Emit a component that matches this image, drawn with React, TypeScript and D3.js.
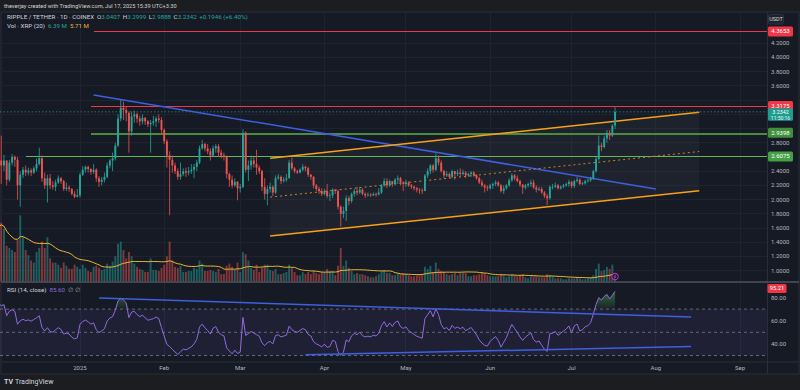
import React from "react";
import * as d3 from "d3";

// ---------------- data ----------------
const startDate = "2024-12-02";
const firstOpen = 2.38;
const lastBarOpen = 3.0407;

const closes = [
  // Dec 2024 (from Dec 2)
  2.55, 2.48, 2.55, 2.28, 2.52, 2.60, 2.56, 2.20, 2.35, 2.42, 2.38, 2.41, 2.38, 2.44, 2.50, 2.58, 2.30, 2.20, 2.30, 2.20, 2.18, 2.24, 2.30, 2.26, 2.15, 2.17, 2.15, 2.08, 2.04, 2.06,
  // Jan 2025
  2.35, 2.42, 2.46, 2.43, 2.39, 2.42, 2.30, 2.25, 2.28, 2.32, 2.48, 2.55, 2.58, 2.76, 3.14, 3.29, 3.26, 3.22, 2.96, 3.17, 3.20, 3.14, 3.10, 3.15, 3.10, 3.06, 3.08, 3.10, 3.14, 3.12, 2.98,
  // Feb
  2.82, 2.62, 2.56, 2.48, 2.40, 2.32, 2.36, 2.40, 2.38, 2.40, 2.42, 2.46, 2.52, 2.72, 2.78, 2.72, 2.68, 2.62, 2.72, 2.75, 2.66, 2.62, 2.60, 2.36, 2.28, 2.20, 2.25, 2.16,
  // Mar
  2.18, 2.94, 2.42, 2.48, 2.55, 2.50, 2.45, 2.40, 2.18, 2.08, 2.15, 2.18, 2.10, 2.30, 2.32, 2.26, 2.28, 2.30, 2.52, 2.44, 2.40, 2.38, 2.42, 2.46, 2.44, 2.35, 2.32, 2.20, 2.15, 2.12, 2.08,
  // Apr
  2.12, 2.05, 2.06, 2.14, 2.12, 1.90, 1.80, 1.84, 2.02, 1.98, 2.08, 2.12, 2.10, 2.14, 2.08, 2.06, 2.07, 2.06, 2.08, 2.07, 2.10, 2.20, 2.26, 2.20, 2.26, 2.22, 2.28, 2.30, 2.24, 2.22,
  // May
  2.24, 2.20, 2.18, 2.16, 2.14, 2.13, 2.12, 2.34, 2.40, 2.48, 2.42, 2.58, 2.52, 2.40, 2.34, 2.36, 2.32, 2.40, 2.36, 2.38, 2.36, 2.38, 2.34, 2.36, 2.38, 2.34, 2.30, 2.24, 2.20, 2.17, 2.16,
  // Jun
  2.20, 2.22, 2.24, 2.20, 2.12, 2.16, 2.20, 2.27, 2.34, 2.30, 2.26, 2.21, 2.17, 2.20, 2.22, 2.24, 2.17, 2.14, 2.15, 2.10, 2.05, 2.02, 2.18, 2.18, 2.20, 2.16, 2.18, 2.20, 2.22, 2.25,
  // Jul
  2.19, 2.26, 2.28, 2.22, 2.23, 2.26, 2.27, 2.30, 2.40, 2.57, 2.76, 2.74, 2.86, 2.94, 2.90, 3.0396, 3.2342,
];

const highs = [
  2.73, 2.90, 2.63, 2.55, 2.56, 2.64, 2.62, 2.60, 2.40, 2.46, 2.48, 2.45, 2.44, 2.47, 2.58, 2.73, 2.62, 2.38, 2.35, 2.36, 2.26, 2.28, 2.34, 2.32, 2.28, 2.24, 2.20, 2.16, 2.12, 2.15,
  2.38, 2.47, 2.48, 2.48, 2.44, 2.50, 2.44, 2.33, 2.32, 2.38, 2.52, 2.57, 2.66, 2.80, 3.20, 3.40, 3.38, 3.30, 3.24, 3.24, 3.25, 3.22, 3.18, 3.20, 3.16, 3.12, 3.12, 3.18, 3.17, 3.20, 3.16,
  3.00, 2.85, 2.68, 2.62, 2.52, 2.44, 2.52, 2.44, 2.45, 2.46, 2.50, 2.50, 2.56, 2.76, 2.84, 2.80, 2.78, 2.72, 2.76, 2.78, 2.78, 2.70, 2.66, 2.62, 2.38, 2.34, 2.30, 2.26,
  2.22, 2.99, 2.96, 2.55, 2.62, 2.60, 2.70, 2.48, 2.42, 2.30, 2.20, 2.24, 2.20, 2.34, 2.36, 2.34, 2.32, 2.36, 2.56, 2.59, 2.46, 2.42, 2.44, 2.50, 2.48, 2.46, 2.36, 2.33, 2.22, 2.18, 2.16,
  2.15, 2.22, 2.10, 2.16, 2.15, 2.14, 1.92, 1.90, 2.06, 2.05, 2.10, 2.15, 2.18, 2.18, 2.16, 2.10, 2.10, 2.09, 2.10, 2.10, 2.16, 2.22, 2.30, 2.30, 2.28, 2.26, 2.30, 2.34, 2.32, 2.26,
  2.28, 2.26, 2.22, 2.20, 2.18, 2.16, 2.16, 2.36, 2.44, 2.50, 2.50, 2.65, 2.62, 2.55, 2.42, 2.40, 2.38, 2.42, 2.40, 2.42, 2.44, 2.42, 2.40, 2.38, 2.40, 2.40, 2.36, 2.32, 2.28, 2.22, 2.20,
  2.22, 2.24, 2.27, 2.26, 2.22, 2.20, 2.22, 2.30, 2.37, 2.36, 2.34, 2.28, 2.22, 2.22, 2.24, 2.28, 2.28, 2.20, 2.18, 2.18, 2.12, 2.08, 2.20, 2.22, 2.24, 2.22, 2.20, 2.22, 2.24, 2.28,
  2.26, 2.28, 2.32, 2.30, 2.25, 2.28, 2.30, 2.32, 2.42, 2.60, 2.90, 2.80, 2.90, 2.98, 2.98, 3.06, 3.2999,
];

const lows = [
  2.28, 2.22, 2.40, 2.20, 2.25, 2.48, 2.46, 2.00, 1.90, 2.30, 2.33, 2.34, 2.33, 2.36, 2.40, 2.48, 2.25, 2.15, 1.96, 2.15, 2.14, 2.12, 2.22, 2.22, 2.12, 2.12, 2.11, 2.06, 2.02, 2.03,
  2.03, 2.33, 2.38, 2.38, 2.35, 2.36, 2.25, 2.18, 2.20, 2.24, 2.30, 2.44, 2.40, 2.55, 2.74, 3.10, 3.12, 3.10, 2.66, 2.90, 3.08, 3.08, 3.04, 3.06, 3.05, 3.02, 2.66, 3.04, 3.02, 3.08, 2.94,
  2.78, 2.45, 1.78, 2.38, 2.36, 2.28, 2.28, 2.33, 2.32, 2.34, 2.36, 2.30, 2.40, 2.50, 2.70, 2.68, 2.64, 2.55, 2.60, 2.66, 2.60, 2.58, 2.55, 2.30, 2.18, 2.16, 2.18, 1.99,
  2.10, 2.16, 2.38, 2.26, 2.42, 2.45, 2.35, 2.36, 2.12, 2.00, 1.92, 2.10, 2.05, 2.08, 2.28, 2.22, 2.24, 2.25, 2.30, 2.42, 2.37, 2.36, 2.37, 2.40, 2.40, 2.32, 2.28, 2.16, 2.12, 2.08, 2.05,
  2.06, 2.02, 1.98, 2.02, 2.08, 1.86, 1.62, 1.74, 1.70, 1.92, 1.95, 2.04, 2.06, 2.08, 2.06, 2.02, 2.04, 2.04, 2.05, 2.04, 2.06, 2.08, 2.18, 2.16, 2.18, 2.18, 2.20, 2.22, 2.20, 2.12,
  2.18, 2.18, 2.15, 2.13, 2.10, 2.08, 2.08, 2.12, 2.30, 2.36, 2.38, 2.40, 2.48, 2.38, 2.30, 2.32, 2.30, 2.30, 2.28, 2.33, 2.32, 2.34, 2.30, 2.32, 2.32, 2.32, 2.28, 2.22, 2.18, 2.10, 2.12,
  2.14, 2.15, 2.19, 2.18, 2.10, 2.08, 2.14, 2.18, 2.25, 2.27, 2.24, 2.18, 2.08, 2.14, 2.17, 2.18, 2.15, 2.10, 2.12, 2.08, 2.02, 1.92, 2.00, 2.14, 2.16, 2.14, 2.14, 2.16, 2.18, 2.18,
  2.16, 2.16, 2.24, 2.20, 2.20, 2.21, 2.24, 2.25, 2.28, 2.38, 2.55, 2.68, 2.72, 2.80, 2.84, 2.88, 2.9888,
];

// volume in millions of XRP
const volumes = [
  52, 56, 50, 34, 32, 30, 28, 40, 63, 42, 30, 25, 20, 18, 28, 32, 38, 32, 42, 22, 18, 18, 16, 13, 18, 15, 12, 12, 16, 14,
  12, 16, 13, 10, 9, 14, 15, 13, 11, 12, 17, 15, 19, 24, 36, 38, 30, 22, 28, 24, 17, 14, 12, 11, 9, 9, 22, 11, 11, 10, 13,
  16, 24, 38, 20, 14, 13, 15, 9, 9, 10, 10, 13, 12, 20, 17, 10, 10, 11, 10, 9, 12, 7, 7, 15, 17, 14, 11, 18,
  9, 28, 26, 20, 13, 11, 16, 9, 13, 16, 16, 11, 10, 12, 7, 7, 8, 9, 16, 13, 9, 6, 6, 9, 7, 9, 7, 10, 8, 7, 9,
  9, 12, 10, 10, 6, 15, 32, 15, 20, 13, 10, 7, 8, 7, 7, 6, 5, 4, 4, 5, 7, 10, 11, 8, 8, 6, 6, 8, 7, 8,
  7, 6, 5, 5, 6, 7, 7, 14, 12, 15, 9, 18, 12, 10, 9, 7, 6, 7, 8, 6, 8, 8, 8, 5, 5, 6, 6, 7, 8, 8, 6,
  5, 5, 5, 5, 7, 6, 4, 5, 7, 6, 5, 6, 7, 4, 3, 5, 5, 5, 4, 4, 4, 7, 6, 5, 3, 3, 3, 2, 2, 3,
  3, 3, 4, 3, 2, 2, 3, 4, 6, 12, 17, 10, 11, 14, 12, 16, 6.39,
];

// Wilder averages of RSI(14) on the day before the first bar (first RSI reads ~74)
const rsiSeedGain = 0.11;
const rsiSeedLoss = 0.04;

const priceTicks = [1.0, 1.2, 1.4, 1.6, 1.8, 2.0, 2.2, 2.4, 2.6, 2.8, 3.0, 3.2, 3.4, 3.6, 3.8, 4.0, 4.2];
const rsiTicks = [40, 60, 80];
const monthTicks = ["2025-01-01", "2025-02-01", "2025-03-01", "2025-04-01", "2025-05-01", "2025-06-01", "2025-07-01", "2025-08-01", "2025-09-01"];
const monthLabels = ["2025", "Feb", "Mar", "Apr", "May", "Jun", "Jul", "Aug", "Sep"];

// drawn levels
const levelPrices = [4.3653, 3.3175, 2.9398, 2.6075];
const levelStarts = ["2025-01-06", "2025-01-05", "2025-01-05", "2024-12-12"];
const levelColors = ["#f23645", "#f23645", "#4c8a3f", "#5fb85a"];
const levelLabelColors = ["#f23645", "#f23645", "#3f8f3c", "#43a047"];
const levelWidths = [1, 1, 2, 1];

// trend lines (date, value)
const blueTrend = [["2025-01-06", 3.471], ["2025-08-01", 2.149]];
const channelUpper = [["2025-03-12", 2.581], ["2025-08-17", 3.228]];
const channelLower = [["2025-03-12", 1.488], ["2025-08-17", 2.125]];
const rsiUpperTrend = [["2025-01-08", 79.5], ["2025-08-14", 63.1]];
const rsiLowerTrend = [["2025-03-25", 30.6], ["2025-08-14", 37.8]];

// ---------------- helpers ----------------
const UP = "#26a69a";
const DOWN = "#ef5350";
const FONT = "Roboto, 'Open Sans', 'DejaVu Sans', sans-serif";
const D = (s: string) => new Date(s + "T00:00:00Z");

export default function App() {
  const W = 800, H = 390;
  const plotRight = 767;
  const priceTop = 12, priceBottom = 282;
  const rsiTop = 283, rsiBottom = 362;

  const x = d3.scaleUtc().domain([D("2025-01-01"), D("2025-09-01")]).range([80, 740]);
  const y = d3.scaleLinear().domain([1, 4]).range([270.7, 57.4]);
  const yVol = d3.scaleLinear().domain([0, 70]).range([281.5, 208]);
  const yR = d3.scaleLinear().domain([30, 70]).range([355.5, 309.1]);

  const start = D(startDate);
  const dates = d3.utcDay.range(start, d3.utcDay.offset(start, closes.length));
  const n = closes.length;
  const bars = closes.map((c, i) => {
    const o = i === 0 ? firstOpen : i === n - 1 ? lastBarOpen : closes[i - 1];
    return {
      date: dates[i],
      open: o,
      close: c,
      high: Math.max(highs[i], o, c),
      low: Math.min(lows[i], o, c),
      vol: volumes[i],
    };
  });

  // volume SMA(20)
  const ma = volumes.map((_, i) => d3.mean(volumes.slice(Math.max(0, i - 19), i + 1)) as number);

  // RSI(14), Wilder smoothing
  const rsi: number[] = [];
  let ag = rsiSeedGain, al = rsiSeedLoss;
  bars.forEach((b, i) => {
    const prev = i === 0 ? firstOpen : closes[i - 1];
    const ch = b.close - prev;
    ag = (ag * 13 + Math.max(ch, 0)) / 14;
    al = (al * 13 + Math.max(-ch, 0)) / 14;
    rsi.push(100 - 100 / (1 + ag / al));
  });

  const bw = 1.9;
  const xs = (d: Date) => x(d);

  const lineP = (pts: any[], scale: any) => {
    const [a, b] = pts;
    return { x1: x(D(a[0])), y1: scale(a[1]), x2: x(D(b[0])), y2: scale(b[1]) };
  };

  const maLine = d3.line<number>().x((_, i) => xs(dates[i])).y((v) => yVol(v))(ma) as string;
  const rsiLine = d3.line<number>().x((_, i) => xs(dates[i])).y((v) => yR(v))(rsi) as string;
  const rsiFill = d3
    .area<number>()
    .x((_, i) => xs(dates[i]))
    .y0(yR(70))
    .y1((v) => yR(Math.max(v, 70)))(rsi) as string;

  const cu = lineP(channelUpper, y);
  const cl = lineP(channelLower, y);
  const channelPoly = `M${cu.x1},${cu.y1}L${cu.x2},${cu.y2}L${cl.x2},${cl.y2}L${cl.x1},${cl.y1}Z`;
  const mid = { x1: cu.x1, y1: (cu.y1 + cl.y1) / 2, x2: cu.x2, y2: (cu.y2 + cl.y2) / 2 };

  const fmt4 = d3.format(".4f");
  const fmt2 = d3.format(".2f");
  const last = bars[n - 1];

  // price-axis labels hidden behind the coloured level / last-price labels
  const labelCenters = [...levelPrices.map((p) => y(p)), y(last.close) + 2.5];
  const visibleTicks = priceTicks.filter((p) => labelCenters.every((c) => Math.abs(y(p) - c) > 6.5));

  const axisText = "#b2b5be";
  const labelBox = (yc: number, text: string, bg: string, key: string) => (
    <g key={key}>
      <rect x={768} y={yc - 5} width={25} height={10} rx={1.5} fill={bg} />
      <text x={780.5} y={yc + 2} fontSize={6} fill="#fff" textAnchor="middle">{text}</text>
    </g>
  );

  return (
    <svg width={W} height={H} style={{ position: "fixed", left: 0, top: 0, display: "block" }} fontFamily={FONT}>
      <defs>
        <clipPath id="pricePane"><rect x={0} y={priceTop} width={plotRight} height={priceBottom - priceTop} /></clipPath>
        <clipPath id="rsiPane"><rect x={0} y={rsiTop} width={plotRight} height={rsiBottom - rsiTop} /></clipPath>
        <linearGradient id="obFill" x1="0" y1="0" x2="0" y2="1">
          <stop offset="0%" stopColor="#4caf50" stopOpacity={0.55} />
          <stop offset="100%" stopColor="#4caf50" stopOpacity={0.05} />
        </linearGradient>
      </defs>

      {/* page / frame */}
      <rect x={0} y={0} width={W} height={H} fill="#1c1d21" />
      <rect x={1} y={priceTop} width={W - 2} height={374 - priceTop} fill="#161a25" stroke="#2a2e39" strokeWidth={1} />
      <text x={4} y={8} fontSize={5.6} fill="#d1d4dc">theverjay created with TradingView.com, Jul 17, 2025 15:39 UTC+3:30</text>

      {/* grid */}
      <g clipPath="url(#pricePane)" shapeRendering="crispEdges">
        {priceTicks.map((p) => (
          <line key={"g" + p} x1={0} x2={plotRight} y1={y(p)} y2={y(p)} stroke="#1f2331" strokeWidth={1} />
        ))}
      </g>
      <g shapeRendering="crispEdges">
        {monthTicks.map((m) => (
          <line key={"v" + m} x1={x(D(m))} x2={x(D(m))} y1={priceTop} y2={rsiBottom} stroke="#1f2331" strokeWidth={1} />
        ))}
      </g>

      {/* price pane */}
      <g clipPath="url(#pricePane)">
        <path d={channelPoly} fill="#ffffff" fillOpacity={0.035} />
        {bars.map((b, i) => (
          <rect
            key={"vb" + i}
            x={xs(b.date) - bw / 2}
            y={yVol(b.vol)}
            width={bw}
            height={yVol(0) - yVol(b.vol)}
            fill={b.close >= b.open ? UP : DOWN}
            fillOpacity={0.5}
          />
        ))}
        <path d={maLine} fill="none" stroke="#e8b730" strokeWidth={1} />

        <g shapeRendering="crispEdges">
          {levelPrices.map((p, i) => (
            <line key={"lv" + i} x1={x(D(levelStarts[i]))} x2={plotRight} y1={Math.round(y(p)) + 0.5} y2={Math.round(y(p)) + 0.5} stroke={levelColors[i]} strokeWidth={levelWidths[i]} />
          ))}
        </g>

        <line {...lineP(blueTrend, y)} stroke="#3d5fe0" strokeWidth={1.5} />
        <path d={`M${cu.x1},${cu.y1}L${cu.x2},${cu.y2}M${cl.x1},${cl.y1}L${cl.x2},${cl.y2}`} fill="none" stroke="#f5a21b" strokeWidth={1.5} />
        <line {...mid} stroke="#c9862a" strokeWidth={1} strokeDasharray="2,3" />

        <line x1={0} x2={plotRight} y1={y(last.close)} y2={y(last.close)} stroke="#2e8c84" strokeWidth={0.8} strokeDasharray="1.5,2" />

        {bars.map((b, i) => {
          const c = b.close >= b.open ? UP : DOWN;
          const top = y(Math.max(b.open, b.close));
          const bot = y(Math.min(b.open, b.close));
          return (
            <g key={"c" + i}>
              <line x1={xs(b.date)} x2={xs(b.date)} y1={y(b.high)} y2={y(b.low)} stroke={c} strokeWidth={0.8} />
              <rect x={xs(b.date) - bw / 2} y={top} width={bw} height={Math.max(0.8, bot - top)} fill={c} />
            </g>
          );
        })}
        <circle cx={xs(last.date)} cy={276.5} r={3.3} fill="#2a1733" stroke="#c13fd6" strokeWidth={0.9} />
        <path d={`M${xs(last.date) + 0.6},${274.6}L${xs(last.date) - 0.8},${276.8}L${xs(last.date) + 0.6},${276.8}L${xs(last.date) - 0.6},${278.6}`} stroke="#e75ae0" strokeWidth={0.6} fill="none" />
      </g>

      {/* right axis separator */}
      <line x1={plotRight + 0.5} x2={plotRight + 0.5} y1={priceTop} y2={374} stroke="#2a2e39" strokeWidth={1} />

      {/* price axis labels */}
      {visibleTicks.map((p) => (
        <text key={"pt" + p} x={771} y={y(p) + 2} fontSize={6} fill={axisText}>{fmt4(p)}</text>
      ))}
      <rect x={768.5} y={14.5} width={15} height={9.5} rx={1.5} fill="#1e222d" stroke="#3a3e4a" strokeWidth={0.6} />
      <text x={776} y={21.2} fontSize={5.5} fill="#d1d4dc" textAnchor="middle">USDT</text>

      {levelPrices.map((p, i) => labelBox(y(p), fmt4(p), levelLabelColors[i], "lb" + i))}
      <g>
        <rect x={768} y={y(last.close) - 3.6} width={25} height={12.6} rx={1.5} fill="#1c9d8f" />
        <text x={780.5} y={y(last.close) + 1.9} fontSize={5.3} fill="#fff" textAnchor="middle">{fmt4(last.close)}</text>
        <text x={780.5} y={y(last.close) + 8.1} fontSize={5} fill="#e8f6f4" textAnchor="middle">11:50:16</text>
      </g>

      {/* pane separator */}
      <line x1={1} x2={W - 1} y1={priceBottom} y2={priceBottom} stroke="#50535e" strokeWidth={1.5} />

      {/* RSI pane */}
      <g clipPath="url(#rsiPane)">
        <rect x={0} y={yR(70)} width={plotRight} height={yR(30) - yR(70)} fill="#7e57c2" fillOpacity={0.1} />
        {[70, 50, 30].map((v) => (
          <line key={"rl" + v} x1={0} x2={plotRight} y1={yR(v)} y2={yR(v)} stroke="#787b86" strokeWidth={0.8} strokeDasharray="3,3" />
        ))}
        <path d={rsiFill} fill="url(#obFill)" />
        <path d={rsiLine} fill="none" stroke="#8f6bdc" strokeWidth={1} />
        <line {...lineP(rsiUpperTrend, yR)} stroke="#3d5fe0" strokeWidth={1.5} />
        <line {...lineP(rsiLowerTrend, yR)} stroke="#3d5fe0" strokeWidth={1.5} />
      </g>
      {rsiTicks.map((v) => (
        <text key={"rt" + v} x={771} y={yR(v) + 2} fontSize={6} fill={axisText}>{fmt2(v)}</text>
      ))}
      <rect x={767.5} y={284} width={19} height={9} rx={1.5} fill="#f23645" />
      <text x={777} y={290.4} fontSize={5.8} fill="#fff" textAnchor="middle">95.21</text>

      {/* time axis */}
      <line x1={1} x2={W - 1} y1={rsiBottom} y2={rsiBottom} stroke="#2a2e39" strokeWidth={1} />
      {monthTicks.map((m, i) => (
        <text key={"mt" + m} x={x(D(m))} y={370} fontSize={6} fill={axisText} textAnchor="middle">{monthLabels[i]}</text>
      ))}

      {/* legends */}
      <text x={7} y={19.3} fontSize={6.2} fill="#d1d4dc">
        RIPPLE / TETHER · 1D · COINEX
        <tspan dx={3}>O</tspan><tspan fill={UP}>{fmt4(last.open)}</tspan>
        <tspan dx={2.5}>H</tspan><tspan fill={UP}>{fmt4(last.high)}</tspan>
        <tspan dx={2.5}>L</tspan><tspan fill={UP}>{fmt4(last.low)}</tspan>
        <tspan dx={2.5}>C</tspan><tspan fill={UP}>{fmt4(last.close)}</tspan>
        <tspan dx={2.5} fill={UP}>+0.1946 (+6.40%)</tspan>
      </text>
      <text x={7} y={28.3} fontSize={6.2} fill="#d1d4dc">
        Vol · XRP (20)
        <tspan dx={3} fill={UP}>6.39 M</tspan>
        <tspan dx={3} fill="#e8b730">5.71 M</tspan>
      </text>
      <text x={7} y={292} fontSize={6.2} fill="#d1d4dc">
        RSI (14, close)
        <tspan dx={3} fill="#8f6bdc">85.60</tspan>
        <tspan dx={3} fill="#9598a1">∅ ∅</tspan>
      </text>

      {/* footer */}
      <text x={4} y={384} fontSize={7} fontWeight={700} fill="#d1d4dc">
        TV
        <tspan dx={2} fontWeight={400}>TradingView</tspan>
      </text>
    </svg>
  );
}
